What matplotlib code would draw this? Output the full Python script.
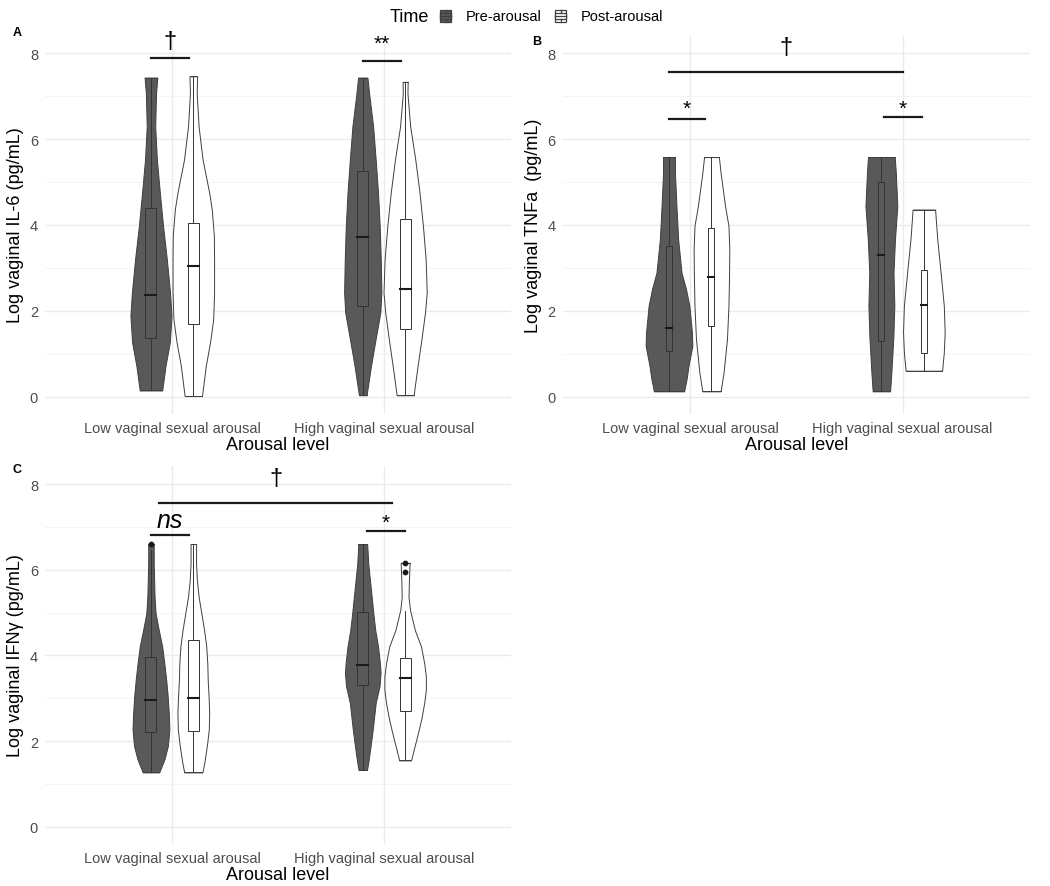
import matplotlib.pyplot as plt
import numpy as np

plt.rcParams['font.family'] = ['Liberation Sans', 'DejaVu Sans']

groups = ["Low vaginal sexual arousal", "High vaginal sexual arousal"]
times = ["Pre-arousal", "Post-arousal"]

# violin outlines: y values and half widths (x units)
a_low_pre_y = [7.43, 7.06, 6.29, 5.52, 4.75, 3.98, 3.20, 2.43, 1.89, 1.27, 0.73, 0.15]
a_low_pre_w = [0.030, 0.024, 0.020, 0.028, 0.042, 0.057, 0.075, 0.090, 0.097, 0.089, 0.069, 0.053]
a_low_post_y = [7.46, 7.06, 6.29, 5.52, 4.75, 4.37, 3.75, 3.20, 2.43, 1.81, 1.27, 0.73, 0.02]
a_low_post_w = [0.018, 0.016, 0.025, 0.044, 0.075, 0.087, 0.097, 0.098, 0.098, 0.094, 0.079, 0.059, 0.041]
a_high_pre_y = [7.43, 7.06, 6.29, 5.52, 4.75, 3.98, 3.20, 2.43, 1.97, 1.27, 0.73, 0.04]
a_high_pre_w = [0.022, 0.030, 0.049, 0.061, 0.072, 0.080, 0.085, 0.088, 0.083, 0.058, 0.039, 0.018]
a_high_post_y = [7.33, 7.06, 6.29, 5.52, 4.75, 3.98, 3.20, 2.43, 1.97, 1.27, 0.73, 0.04]
a_high_post_w = [0.012, 0.011, 0.024, 0.048, 0.068, 0.084, 0.097, 0.102, 0.094, 0.075, 0.059, 0.040]

b_low_pre_y = [5.58, 5.21, 4.44, 3.67, 2.89, 2.51, 2.12, 1.50, 1.19, 0.73, 0.42, 0.13]
b_low_pre_w = [0.028, 0.028, 0.035, 0.043, 0.059, 0.080, 0.096, 0.108, 0.110, 0.092, 0.083, 0.071]
b_low_post_y = [5.58, 5.21, 4.44, 3.98, 3.43, 2.89, 2.12, 1.35, 0.57, 0.13]
b_low_post_w = [0.035, 0.043, 0.064, 0.080, 0.084, 0.083, 0.080, 0.073, 0.057, 0.043]
b_high_pre_y = [5.58, 5.21, 4.44, 3.67, 2.89, 2.12, 1.35, 0.57, 0.13]
b_high_pre_w = [0.063, 0.068, 0.075, 0.064, 0.057, 0.061, 0.056, 0.047, 0.041]
b_high_post_y = [4.36, 3.67, 2.89, 2.12, 1.50, 1.04, 0.61]
b_high_post_w = [0.053, 0.063, 0.079, 0.094, 0.098, 0.094, 0.086]

c_low_pre_y = [6.60, 6.14, 5.37, 4.98, 4.59, 4.21, 3.82, 3.43, 3.05, 2.66, 2.27, 1.89, 1.58, 1.27]
c_low_pre_w = [0.013, 0.013, 0.017, 0.022, 0.037, 0.053, 0.063, 0.072, 0.079, 0.084, 0.087, 0.080, 0.064, 0.039]
c_low_post_y = [6.60, 6.14, 5.75, 5.37, 4.98, 4.59, 4.21, 3.82, 3.43, 3.05, 2.66, 2.27, 1.89, 1.50, 1.27]
c_low_post_w = [0.013, 0.013, 0.017, 0.025, 0.038, 0.051, 0.061, 0.066, 0.068, 0.072, 0.075, 0.073, 0.064, 0.052, 0.043]
c_high_pre_y = [6.59, 6.14, 5.37, 4.98, 4.59, 4.21, 3.82, 3.59, 3.28, 2.89, 2.27, 1.89, 1.50, 1.33]
c_high_pre_w = [0.021, 0.026, 0.042, 0.050, 0.059, 0.072, 0.081, 0.084, 0.079, 0.061, 0.047, 0.037, 0.026, 0.020]
c_high_post_y = [6.16, 5.75, 5.37, 5.06, 4.59, 4.21, 3.82, 3.51, 3.20, 2.89, 2.51, 2.12, 1.81, 1.55]
c_high_post_w = [0.021, 0.018, 0.016, 0.023, 0.046, 0.075, 0.090, 0.098, 0.098, 0.090, 0.076, 0.057, 0.041, 0.028]

# box stats, order: low-pre, low-post, high-pre, high-post
a_q1 = [1.37, 1.70, 2.11, 1.57]
a_med = [2.38, 3.05, 3.73, 2.51]
a_q3 = [4.40, 4.05, 5.25, 4.15]
a_lo = [0.15, 0.02, 0.04, 0.04]
a_hi = [7.43, 7.46, 7.43, 7.33]

b_q1 = [1.07, 1.66, 1.31, 1.03]
b_med = [1.61, 2.78, 3.30, 2.14]
b_q3 = [3.50, 3.92, 5.00, 2.95]
b_lo = [0.13, 0.13, 0.13, 0.61]
b_hi = [5.58, 5.58, 5.58, 4.36]

c_q1 = [2.22, 2.24, 3.30, 2.70]
c_med = [2.97, 3.01, 3.78, 3.47]
c_q3 = [3.96, 4.36, 5.02, 3.95]
c_lo = [1.27, 1.27, 1.33, 1.55]
c_hi = [6.45, 6.60, 6.59, 5.03]
c_out_low_pre = [6.60]
c_out_high_post = [5.95, 6.16]

ylabels = ["Log vaginal IL-6 (pg/mL)", "Log vaginal TNFa  (pg/mL)", "Log vaginal IFN\u03b3 (pg/mL)"]

# significance brackets: (x0, x1, y, label, label_y, italic, size)
a_sig = [(0.90, 1.08, 7.88, "\u2020", 8.28, False, 17), (1.90, 2.08, 7.82, "**", 8.22, False, 15)]
b_sig = [(0.90, 2.00, 7.55, "\u2020", 8.14, False, 17), (0.90, 1.07, 6.47, "*", 6.72, False, 15),
         (1.91, 2.09, 6.52, "*", 6.72, False, 15)]
c_sig = [(0.94, 2.04, 7.56, "\u2020", 8.15, False, 17), (0.90, 1.08, 6.81, "ns", 7.15, True, 18),
         (1.92, 2.10, 6.90, "*", 7.10, False, 15)]

pre_col = "#595959"
post_col = "white"
line_col = "#3f3f3f"
dodge = 0.1

fig = plt.figure(figsize=(10.5, 8.87), dpi=100)
ax_a = fig.add_axes([0.0429, 0.532, 0.4438, 0.4274])
ax_b = fig.add_axes([0.536, 0.532, 0.445, 0.4274])
ax_c = fig.add_axes([0.0429, 0.0474, 0.4438, 0.4261])

panels = [
    (ax_a, [(a_low_pre_y, a_low_pre_w), (a_low_post_y, a_low_post_w),
            (a_high_pre_y, a_high_pre_w), (a_high_post_y, a_high_post_w)],
     (a_q1, a_med, a_q3, a_lo, a_hi), 0.052, a_sig, ylabels[0], {}),
    (ax_b, [(b_low_pre_y, b_low_pre_w), (b_low_post_y, b_low_post_w),
            (b_high_pre_y, b_high_pre_w), (b_high_post_y, b_high_post_w)],
     (b_q1, b_med, b_q3, b_lo, b_hi), 0.028, b_sig, ylabels[1], {}),
    (ax_c, [(c_low_pre_y, c_low_pre_w), (c_low_post_y, c_low_post_w),
            (c_high_pre_y, c_high_pre_w), (c_high_post_y, c_high_post_w)],
     (c_q1, c_med, c_q3, c_lo, c_hi), 0.052, c_sig, ylabels[2],
     {0: c_out_low_pre, 3: c_out_high_post}),
]

for ax, violins, stats, bw, sig, ylab, outliers in panels:
    q1, med, q3, lo, hi = stats
    for i, (vy, vw) in enumerate(violins):
        g = i // 2
        t = i % 2
        xc = g + 1 + (-dodge if t == 0 else dodge)
        fc = pre_col if t == 0 else post_col
        vy = np.array(vy)
        vw = np.array(vw)
        ax.fill_betweenx(vy, xc - vw, xc + vw, facecolor=fc, edgecolor=line_col, linewidth=0.7, zorder=3)
        ax.plot([xc - vw[0], xc + vw[0]], [vy[0], vy[0]], color=line_col, lw=0.7, zorder=3)
        ax.plot([xc - vw[-1], xc + vw[-1]], [vy[-1], vy[-1]], color=line_col, lw=0.7, zorder=3)
        # box
        ax.plot([xc, xc], [lo[i], q1[i]], color="#333333", lw=0.7, zorder=4)
        ax.plot([xc, xc], [q3[i], hi[i]], color="#333333", lw=0.7, zorder=4)
        ax.add_patch(plt.Rectangle((xc - bw / 2, q1[i]), bw, q3[i] - q1[i], facecolor=fc,
                                   edgecolor="#333333", lw=0.7, zorder=4))
        ax.plot([xc - bw / 2, xc + bw / 2], [med[i], med[i]], color="#1a1a1a", lw=1.5, zorder=5)
        if i in outliers:
            ax.scatter([xc] * len(outliers[i]), outliers[i], s=10, color="#1a1a1a", zorder=6)

    for x0, x1, yb, lab, ly, it, fs in sig:
        ax.plot([x0, x1], [yb, yb], color="#1a1a1a", lw=1.6, zorder=5)
        ax.text((x0 + x1) / 2, ly, lab, ha="center", va="center", fontsize=fs,
                style="italic" if it else "normal", zorder=6)

    ax.set_xlim(0.4, 2.6)
    ax.set_ylim(-0.4, 8.42)
    ax.set_xticks([1, 2])
    ax.set_xticklabels(groups)
    ax.set_yticks([0, 2, 4, 6, 8])
    ax.set_yticks([1, 3, 5, 7], minor=True)
    ax.grid(True, which="major", color="#ebebeb", lw=1.0, zorder=0)
    ax.grid(True, which="minor", axis="y", color="#f2f2f2", lw=0.6, zorder=0)
    ax.set_axisbelow(True)
    for s in ax.spines.values():
        s.set_visible(False)
    ax.tick_params(which="both", length=0, labelsize=10.5, labelcolor="#4d4d4d")
    ax.tick_params(axis="x", pad=5)
    ax.tick_params(axis="y", pad=5)
    ax.set_xlabel("Arousal level", fontsize=13, labelpad=1)
    ax.set_ylabel(ylab, fontsize=13, labelpad=4)

fig.text(0.012, 0.963, "A", fontsize=9, fontweight="bold", ha="left", va="center")
fig.text(0.507, 0.953, "B", fontsize=9, fontweight="bold", ha="left", va="center")
fig.text(0.012, 0.470, "C", fontsize=9, fontweight="bold", ha="left", va="center")

# legend
fig.text(390 / 1050, 1 - 17 / 887, "Time", fontsize=13, ha="left", va="center")
for kx, col, lab in [(439, pre_col, times[0]), (554, post_col, times[1])]:
    kax = fig.add_axes([kx / 1050, 1 - 24 / 887, 13 / 1050, 14 / 887])
    kax.set_xlim(-0.05, 1.05)
    kax.set_ylim(-0.05, 1.05)
    kax.axis("off")
    kax.add_patch(plt.Rectangle((0, 0), 1, 1, facecolor=col, edgecolor=line_col, lw=0.9, clip_on=False))
    kax.add_patch(plt.Rectangle((0, 0.25), 1, 0.5, facecolor=col, edgecolor=line_col, lw=0.9, clip_on=False))
    kax.plot([0, 1], [0.5, 0.5], color=line_col, lw=0.9, clip_on=False)
    kax.plot([0.5, 0.5], [0, 0.25], color=line_col, lw=0.9, clip_on=False)
    kax.plot([0.5, 0.5], [0.75, 1], color=line_col, lw=0.9, clip_on=False)
    fig.text((kx + 27) / 1050, 1 - 17 / 887, lab, fontsize=10.5, ha="left", va="center")

fig.savefig("out.png", dpi=100)
